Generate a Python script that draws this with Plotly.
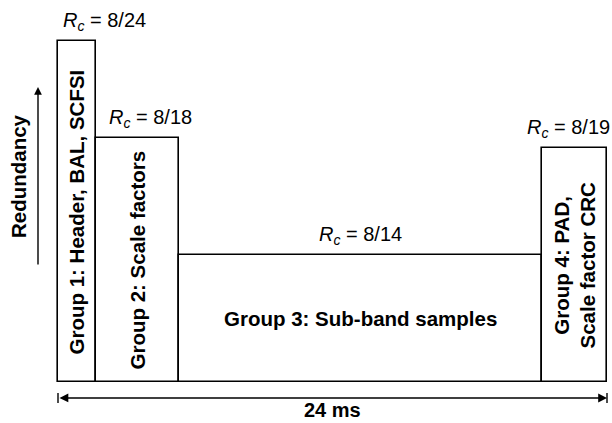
import plotly.graph_objects as go

# ---- data ----
group_labels = ["Group 1: Header, BAL, SCFSI", "Group 2: Scale factors",
                "Group 3: Sub-band samples", "Group 4: PAD,<br>Scale factor CRC"]
code_rates = ["8/24", "8/18", "8/14", "8/19"]
duration_ms = [1.66, 3.63, 15.87, 2.84]          # widths of the segments (sum 24 ms)
redundancy = [3.41, 2.44, 1.27, 2.34]            # relative heights of the boxes
total_label = "24 ms"
axis_label = "Redundancy"

# ---- styling ----
label_rot = [-90, -90, 0, -90]
rate_anchor = ["left", "left", "center", "center"]
rate_dx = [0.13, 0.48, 0.0, -0.26]               # ms offsets of the R_c labels

starts = []
acc = 0.0
for d in duration_ms:
    starts.append(acc)
    acc += d
centers = [s + d / 2 for s, d in zip(starts, duration_ms)]
total = acc

FONT = "Liberation Sans, Arial, Helvetica, sans-serif"
W, H = 612, 423
L, R, T, B = 56, 3, 2, 39
PW, PH = W - L - R, H - T - B
SCALE_X = (PW - 4) / total   # px per ms

def px_x(p):
    return (p - L) / PW

def px_y(p):
    return (H - B - p) / PH

fig = go.Figure()
fig.add_trace(go.Bar(
    x=centers, y=redundancy, width=duration_ms,
    marker=dict(color="white", line=dict(color="black", width=1.6)),
    hoverinfo="skip", showlegend=False,
))

ann = []
for c, h, lab, rot in zip(centers, redundancy, group_labels, label_rot):
    ann.append(dict(x=c, y=h / 2, xref="x", yref="y", xanchor="center", yanchor="middle",
                    text="<b>" + lab + "</b>", textangle=rot, showarrow=False,
                    font=dict(family=FONT, size=20.5, color="black")))
for s, c, h, rc, a, dx in zip(starts, centers, redundancy, code_rates, rate_anchor, rate_dx):
    xx = (s if a == "left" else c) + dx
    ann.append(dict(x=xx, y=h + 0.20, xref="x", yref="y", xanchor=a, yanchor="middle",
                    text="<i>R<sub>c</sub></i> = " + rc, showarrow=False,
                    font=dict(family=FONT, size=20, color="black")))

# 24 ms double arrow
ay_paper = px_y(398)
ann.append(dict(x=total, y=ay_paper, xref="x", yref="paper", ax=0, ay=ay_paper,
                axref="x", ayref="y", text="", showarrow=True, arrowhead=2,
                arrowside="end+start", arrowwidth=1.6, arrowsize=1.1, arrowcolor="black",
                standoff=0, startstandoff=0))
ann.append(dict(x=total / 2, y=px_y(410), xref="x", yref="paper", xanchor="center", yanchor="middle",
                text="<b>" + total_label + "</b>", showarrow=False,
                font=dict(family=FONT, size=20, color="black")))

# Redundancy arrow + label
ann.append(dict(x=px_x(38), y=px_y(87), xref="paper", yref="paper", ax=0, ay=179,
                axref="pixel", ayref="pixel", text="", showarrow=True, arrowhead=2,
                arrowwidth=1.4, arrowsize=1.1, arrowcolor="black", standoff=0))
ann.append(dict(x=px_x(18), y=px_y(176), xref="paper", yref="paper", xanchor="center", yanchor="middle",
                text="<b>" + axis_label + "</b>", textangle=-90, showarrow=False,
                font=dict(family=FONT, size=20.5, color="black")))

shapes = []
for xx in (0, total):
    shapes.append(dict(type="line", xref="x", yref="paper", x0=xx, x1=xx,
                       y0=px_y(393), y1=px_y(403), line=dict(color="black", width=1.4)))

xpad = 2 / SCALE_X
fig.update_layout(
    width=W, height=H, autosize=False,
    margin=dict(l=L, r=R, t=T, b=B),
    paper_bgcolor="white", plot_bgcolor="white",
    xaxis=dict(range=[-xpad, total + xpad], visible=False, fixedrange=True),
    yaxis=dict(range=[-0.02, (H - B - T) / 100 - 0.02], visible=False, fixedrange=True),
    annotations=ann, shapes=shapes, bargap=0,
)
fig.write_html("out.html", post_script="document.body.style.margin='0px';",
               config={"displayModeBar": False})
